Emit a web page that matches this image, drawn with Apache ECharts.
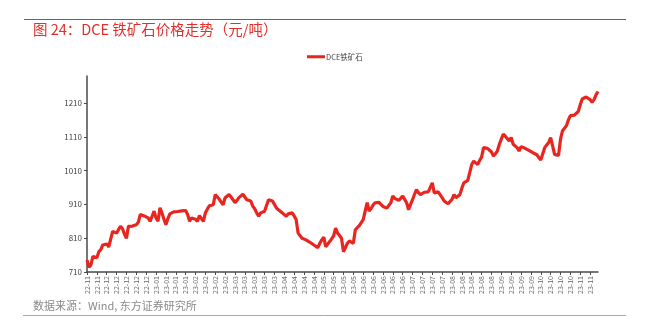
<!DOCTYPE html>
<html>
<head>
<meta charset="utf-8">
<script src="https://cdn.jsdelivr.net/npm/echarts@6/dist/echarts.min.js"></script>
<style>
  html, body { margin: 0; padding: 0; background: #ffffff; }
  #chart { width: 649px; height: 323px; }
</style>
</head>
<body>
<div id="chart"></div>
<script>
// DCE iron ore daily price (yuan/ton), trading weekdays starting 2022-11-17
const startDate = '2022-11-17';
const seriesName = 'DCE铁矿石';
const priceValues = [
  745, 724, 731, 756, 758, 752, 770, 776, 790, 795,
  793, 784, 780, 830, 828, 825, 836, 845, 838, 822,
  810, 845, 842, 846, 848, 850, 857, 880, 879, 876,
  877, 870, 860, 875, 890, 870, 860, 900, 885, 866,
  850, 868, 882, 887, 888, 889, 889, 890, 891, 891,
  892, 880, 860, 870, 869, 866, 860, 877, 868, 860,
  885, 896, 906, 907, 909, 939, 932, 926, 917, 909,
  930, 935, 939, 932, 924, 915, 922, 930, 935, 940,
  944, 924, 922, 920, 905, 897, 885, 875, 885, 888,
  890, 907, 924, 922, 920, 910, 900, 894, 890, 885,
  880, 875, 882, 878, 885, 876, 865, 825, 820, 810,
  808, 805, 802, 798, 795, 790, 786, 782, 795, 805,
  813, 785, 790, 800, 808, 817, 840, 825, 818, 810,
  770, 765, 795, 802, 807, 795, 835, 840, 847, 856,
  865, 890, 915, 890, 898, 908, 915, 920, 916, 910,
  904, 900, 899, 897, 915, 935, 928, 924, 922, 928,
  935, 925, 915, 894, 910, 924, 940, 954, 945, 939,
  944, 946, 949, 947, 949, 974, 944, 946, 947, 943,
  930, 920, 915, 912, 909, 925, 939, 930, 935, 939,
  958, 974, 979, 981, 984, 1028, 1038, 1033, 1028, 1040,
  1050, 1078, 1075, 1076, 1078, 1065, 1053, 1060, 1068, 1088,
  1103, 1118, 1112, 1108, 1098, 1108, 1088, 1083, 1078, 1068,
  1081, 1078, 1076, 1073, 1070, 1066, 1063, 1060, 1057, 1053,
  1041, 1060, 1078, 1086, 1093, 1108, 1083, 1058, 1056, 1055,
  1103, 1128, 1135, 1143, 1160, 1173, 1175, 1174, 1173, 1185,
  1205, 1222, 1227, 1228, 1230, 1220, 1212, 1220, 1234, 1244
];
const yTickValues = [710, 810, 910, 1010, 1110, 1210];
const yMin = 710;
const yMax = 1290;

// Weekday calendar for the category axis
function buildDates(start, count) {
  const out = [];
  const d = new Date(start + 'T00:00:00Z');
  while (out.length < count) {
    const wd = d.getUTCDay();
    if (wd !== 0 && wd !== 6) {
      const y = d.getUTCFullYear();
      const m = String(d.getUTCMonth() + 1).padStart(2, '0');
      const day = String(d.getUTCDate()).padStart(2, '0');
      out.push(y + '-' + m + '-' + day);
    }
    d.setUTCDate(d.getUTCDate() + 1);
  }
  return out;
}
const dates = buildDates(startDate, priceValues.length);

const chart = echarts.init(document.getElementById('chart'), null, { renderer: 'canvas' });
const cjk = '"Noto Sans CJK SC", "Noto Sans", sans-serif';

chart.setOption({
  animation: false,
  backgroundColor: '#ffffff',
  textStyle: { fontFamily: cjk },
  graphic: [
    { type: 'line', shape: { x1: 24, y1: 19.5, x2: 626, y2: 19.5 },
      style: { stroke: '#e0302c', lineWidth: 1 } },
    { type: 'text', left: 33, top: 22,
      style: { text: '图 24：DCE 铁矿石价格走势（元/吨）', fill: '#e0302c',
               font: '14.5px "Noto Sans CJK SC", sans-serif' } },
    { type: 'text', left: 33, top: 300,
      style: { text: '数据来源：Wind, 东方证券研究所', fill: '#8a8a8a',
               font: '11px "Noto Sans CJK SC", sans-serif' } },
    { type: 'line', shape: { x1: 23, y1: 315.5, x2: 626, y2: 315.5 },
      style: { stroke: '#ee8b86', lineWidth: 1 } }
  ],
  legend: {
    data: [seriesName],
    left: 307,
    top: 53,
    icon: 'rect',
    itemWidth: 18,
    itemHeight: 3,
    itemGap: 0,
    padding: 0,
    textStyle: { fontSize: 7.5, color: '#444', padding: [0, 0, 0, -4], fontFamily: cjk }
  },
  grid: { left: 87, right: 51, top: 76, bottom: 51, containLabel: false },
  xAxis: {
    type: 'category',
    data: dates,
    boundaryGap: false,
    axisLine: { lineStyle: { color: '#4a4a4a', width: 1.5 } },
    axisTick: { show: true, interval: 4, length: 3, lineStyle: { color: '#4a4a4a' } },
    axisLabel: {
      interval: 4,
      rotate: 90,
      fontSize: 7,
      color: '#666',
      margin: 4,
      formatter: v => v.slice(2, 7)
    },
    splitLine: { show: false }
  },
  yAxis: {
    type: 'value',
    min: yMin,
    max: yMax,
    axisLine: { show: true, lineStyle: { color: '#4a4a4a', width: 1.5 } },
    axisTick: { show: true, length: 3, customValues: yTickValues, lineStyle: { color: '#4a4a4a' } },
    axisLabel: {
      fontSize: 8, color: '#444', margin: 5, customValues: yTickValues,
      formatter: v => String(v)
    },
    splitLine: { show: false }
  },
  series: [{
    name: seriesName,
    type: 'line',
    data: priceValues,
    showSymbol: false,
    symbol: 'none',
    lineStyle: { color: '#e8251f', width: 3.2 },
    itemStyle: { color: '#e8251f' }
  }]
});
</script>
</body>
</html>
